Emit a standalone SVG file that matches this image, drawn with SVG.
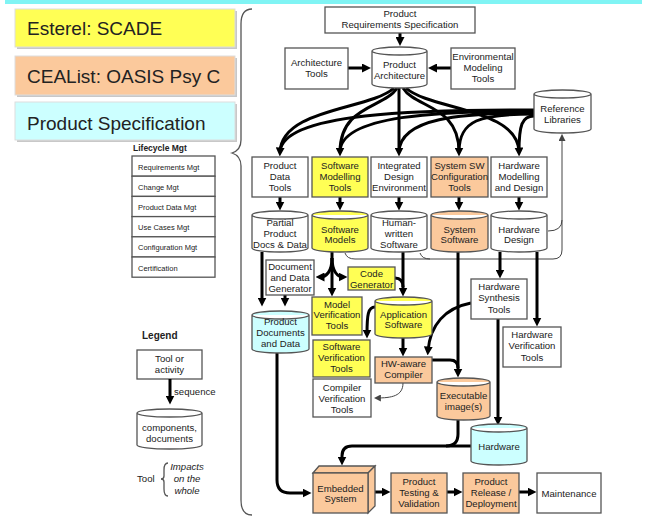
<svg xmlns="http://www.w3.org/2000/svg" width="647" height="519" viewBox="0 0 647 519">
<style>
.bx{fill:#fff;stroke:#555;stroke-width:1.3}
.y{fill:#ffff55}
.p{fill:#fbc99c}
.c{fill:#ccffff}
.t{font-family:"Liberation Sans",Arial,sans-serif;font-size:9.6px;fill:#222;text-anchor:middle}
.big{font-family:"Liberation Sans",Arial,sans-serif;font-size:19px;fill:#222}
.lc{font-family:"Liberation Sans",Arial,sans-serif;font-size:7.5px;fill:#222}
.b{font-family:"Liberation Sans",Arial,sans-serif;font-weight:bold;fill:#222}
.k{fill:none;stroke:#000;stroke-width:3}
.n{fill:none;stroke:#444;stroke-width:1}
.br{fill:none;stroke:#555;stroke-width:1.3}
.sh{fill:#c8c8c8}
.lb{stroke:#ddd;stroke-width:1}
</style>
<defs>
<marker id="a" viewBox="0 0 10 10" markerWidth="9" markerHeight="9" refX="5" refY="5" orient="auto" markerUnits="userSpaceOnUse"><path d="M0,0 L10,5 L0,10 z" fill="#000"/></marker>
<marker id="s" viewBox="0 0 10 10" markerWidth="7" markerHeight="7" refX="7" refY="5" orient="auto" markerUnits="userSpaceOnUse"><path d="M0,0 L10,5 L0,10 z" fill="#444"/></marker>
</defs>
<rect x="5" y="0" width="637" height="4" fill="#80f4f4"/>

<g id="legend-esterel">
<rect class="sh" x="17" y="11" width="220" height="38"/>
<rect class="y lb" x="15" y="9" width="220" height="38"/>
<text class="big" x="27" y="35">Esterel: SCADE</text>
</g>
<g id="legend-cealist">
<rect class="sh" x="17" y="58" width="220" height="39"/>
<rect class="p lb" x="15" y="56" width="220" height="39"/>
<text class="big" x="27" y="83">CEAList: OASIS Psy C</text>
</g>
<g id="legend-spec">
<rect class="sh" x="17" y="104" width="220" height="38"/>
<rect class="c lb" x="15" y="102" width="220" height="38"/>
<text class="big" x="27" y="130">Product Specification</text>
</g>
<path class="br" d="M252,9 Q241,9 241,24 L241,140 Q241,150 232,153 Q241,156 241,166 L241,500 Q241,515 252,515"/>

<g id="lifecycle">
<text class="b" x="133" y="151" font-size="8.5px">Lifecycle Mgt</text>
<rect class="bx" x="132" y="156" width="83" height="20.2"/>
<rect class="bx" x="132" y="176.2" width="83" height="20.2"/>
<rect class="bx" x="132" y="196.4" width="83" height="20.2"/>
<rect class="bx" x="132" y="216.6" width="83" height="20.2"/>
<rect class="bx" x="132" y="236.8" width="83" height="20.2"/>
<rect class="bx" x="132" y="257" width="83" height="20.2"/>
<text class="lc" x="138" y="169.5">Requirements Mgt</text>
<text class="lc" x="138" y="189.7">Change Mgt</text>
<text class="lc" x="138" y="209.9">Product Data Mgt</text>
<text class="lc" x="138" y="230.1">Use Cases Mgt</text>
<text class="lc" x="138" y="250.3">Configuration Mgt</text>
<text class="lc" x="138" y="270.5">Certification</text>
</g>

<g id="legend">
<text class="b" x="142" y="339" font-size="10px">Legend</text>
<rect class="bx" x="137" y="350" width="65" height="29"/>
<text class="t" x="169.5" y="362">Tool or</text>
<text class="t" x="169.5" y="373">activity</text>
<path class="k" d="M170,379 L170,400" marker-end="url(#a)"/>
<text class="t" x="174" y="395" font-size="8.5px" style="text-anchor:start">sequence</text>
<path class="bx" d="M137,413 A32.5,4 0 0 1 202,413 V445 A32.5,4 0 0 1 137,445 Z M137,413 A32.5,4 0 0 0 202,413"/>
<text class="t" x="169.5" y="431">components,</text>
<text class="t" x="169.5" y="442">documents</text>
<text class="t" x="137" y="482" style="text-anchor:start">Tool</text>
<path class="br" d="M168,463 Q164,463 164,470 L164,476 Q164,479 161,479 Q164,479 164,482 L164,489 Q164,496 168,496"/>
<text class="t" x="187" y="470" font-size="8.5px" font-style="italic">Impacts</text>
<text class="t" x="187" y="482" font-size="8.5px" font-style="italic">on the</text>
<text class="t" x="187" y="494" font-size="8.5px" font-style="italic">whole</text>
</g>

<g id="connectors">
<path class="k" d="M400,33 L400,41.5" marker-end="url(#a)"/>
<path class="k" d="M348,68 L366.5,68" marker-end="url(#a)"/>
<path class="k" d="M451,68 L432.5,68" marker-end="url(#a)"/>
<path class="k" d="M394,88 C370,110 282,108 280,152" marker-end="url(#a)"/>
<path class="k" d="M397,88 C385,108 340,105 340,152" marker-end="url(#a)"/>
<path class="k" d="M399,88 L399,152" marker-end="url(#a)"/>
<path class="k" d="M403,88 C415,108 459,105 459,152" marker-end="url(#a)"/>
<path class="k" d="M406,88 C430,110 518,108 519,152" marker-end="url(#a)"/>
<path class="k" d="M534,110 C420,110 282,112 280,152"/>
<path class="k" d="M534,111 C440,111 340,115 340,152"/>
<path class="k" d="M534,113 C460,113 400,118 399,152"/>
<path class="k" d="M534,114 C480,114 459,120 459,152"/>
<path class="k" d="M534,116 C522,116 519,125 519,152"/>
<path class="k" d="M280,197 L280,206" marker-end="url(#a)"/>
<path class="k" d="M340,197 L340,206" marker-end="url(#a)"/>
<path class="k" d="M399,197 L399,206" marker-end="url(#a)"/>
<path class="k" d="M459,197 L459,206" marker-end="url(#a)"/>
<path class="k" d="M519,197 L519,206" marker-end="url(#a)"/>
<path class="n" d="M345,253 Q347,259 355,259 L553,259 Q562,259 562,250 L562,136" marker-end="url(#s)"/>
<path class="n" d="M420,253 Q422,259 430,259"/>
<path class="n" d="M548,231 Q562,231 562,220"/>
<path class="k" d="M332,252 L332,292" marker-end="url(#a)"/>
<path class="k" d="M332,258 C332,272 326,277 320,277" marker-end="url(#a)"/>
<path class="k" d="M332,258 C332,272 338,277 343,277" marker-end="url(#a)"/>
<path class="k" d="M262,252 L262,302" marker-end="url(#a)"/>
<path class="k" d="M285,295 L285,302" marker-end="url(#a)"/>
<path class="k" d="M277,353 L277,480 Q277,493 290,493 L307,493" marker-end="url(#a)"/>
<path class="k" d="M403,252 L403,292" marker-end="url(#a)"/>
<path class="k" d="M395,278 Q403,278 403,287"/>
<path class="k" d="M375,307 C368,307 367,315 367,334" marker-end="url(#a)"/>
<path class="k" d="M403,338 L403,352" marker-end="url(#a)"/>
<path class="n" d="M403,383 C403,396 392,398 376,398" marker-end="url(#s)"/>
<path class="k" d="M458,252 L458,373" marker-end="url(#a)"/>
<path class="k" d="M432,360 L450,360 Q458,360 458,368"/>
<path class="k" d="M471,303 C445,308 430,325 428,351" marker-end="url(#a)"/>
<path class="k" d="M500,252 L500,274" marker-end="url(#a)"/>
<path class="k" d="M537,252 L537,322" marker-end="url(#a)"/>
<path class="k" d="M498,319 L498,421" marker-end="url(#a)"/>
<path class="k" d="M458,420 L458,434 Q458,446 446,446 L352,446 Q342,446 342,456 L342,461" marker-end="url(#a)"/>
<path class="k" d="M471,446 L446,446"/>
<path class="k" d="M375,492 L386,492" marker-end="url(#a)"/>
<path class="k" d="M447,492 L458,492" marker-end="url(#a)"/>
<path class="k" d="M519,492 L532,492" marker-end="url(#a)"/>
</g>

<g id="prs">
<rect class="bx" x="325" y="7" width="150" height="26"/>
<text class="t" x="400" y="17">Product</text>
<text class="t" x="400" y="28">Requirements Specification</text>
</g>
<g id="product-architecture">
<path class="bx" d="M372,51 A27.5,4 0 0 1 427,51 V84 A27.5,4 0 0 1 372,84 Z M372,51 A27.5,4 0 0 0 427,51"/>
<text class="t" x="399.5" y="68">Product</text>
<text class="t" x="399.5" y="79">Architecture</text>
</g>
<g id="architecture-tools">
<rect class="bx" x="285" y="48" width="63" height="41"/>
<text class="t" x="316.5" y="66">Architecture</text>
<text class="t" x="316.5" y="77">Tools</text>
</g>
<g id="env-tools">
<rect class="bx" x="451" y="48" width="64" height="41"/>
<text class="t" x="483" y="60">Environmental</text>
<text class="t" x="483" y="71">Modeling</text>
<text class="t" x="483" y="82">Tools</text>
</g>
<g id="reference-libraries">
<path class="bx" d="M534,94 A28.5,4 0 0 1 591,94 V129 A28.5,4 0 0 1 534,129 Z M534,94 A28.5,4 0 0 0 591,94"/>
<text class="t" x="562.5" y="112">Reference</text>
<text class="t" x="562.5" y="123">Libraries</text>
</g>

<g id="product-data-tools">
<rect class="bx" x="252" y="157" width="56" height="40"/>
<text class="t" x="280" y="169">Product</text>
<text class="t" x="280" y="180">Data</text>
<text class="t" x="280" y="191">Tools</text>
</g>
<g id="sw-modelling-tools">
<rect class="bx y" x="312" y="157" width="56" height="40"/>
<text class="t" x="340" y="169">Software</text>
<text class="t" x="340" y="180">Modelling</text>
<text class="t" x="340" y="191">Tools</text>
</g>
<g id="ide">
<rect class="bx" x="371" y="157" width="56" height="40"/>
<text class="t" x="399" y="169">Integrated</text>
<text class="t" x="399" y="180">Design</text>
<text class="t" x="399" y="191">Environment</text>
</g>
<g id="sys-sw-config-tools">
<rect class="bx p" x="431" y="157" width="57" height="40"/>
<text class="t" x="459.5" y="169">System SW</text>
<text class="t" x="459.5" y="180">Configuration</text>
<text class="t" x="459.5" y="191">Tools</text>
</g>
<g id="hw-modelling">
<rect class="bx" x="491" y="157" width="56" height="40"/>
<text class="t" x="519" y="169">Hardware</text>
<text class="t" x="519" y="180">Modelling</text>
<text class="t" x="519" y="191">and Design</text>
</g>

<g id="partial-docs">
<path class="bx" d="M252,215 A28,4 0 0 1 308,215 V248 A28,4 0 0 1 252,248 Z M252,215 A28,4 0 0 0 308,215"/>
<text class="t" x="280" y="226">Partial</text>
<text class="t" x="280" y="237">Product</text>
<text class="t" x="280" y="248">Docs &amp; Data</text>
</g>
<g id="software-models">
<path class="bx y" d="M312,215 A28,4 0 0 1 368,215 V248 A28,4 0 0 1 312,248 Z M312,215 A28,4 0 0 0 368,215"/>
<text class="t" x="340" y="233">Software</text>
<text class="t" x="340" y="243">Models</text>
</g>
<g id="human-written">
<path class="bx" d="M371,215 A28,4 0 0 1 427,215 V248 A28,4 0 0 1 371,248 Z M371,215 A28,4 0 0 0 427,215"/>
<text class="t" x="399" y="226">Human-</text>
<text class="t" x="399" y="237">written</text>
<text class="t" x="399" y="248">Software</text>
</g>
<g id="system-software">
<path class="bx p" d="M431,215 A28.5,4 0 0 1 488,215 V248 A28.5,4 0 0 1 431,248 Z M431,215 A28.5,4 0 0 0 488,215"/>
<text class="t" x="459.5" y="233">System</text>
<text class="t" x="459.5" y="243">Software</text>
</g>
<g id="hardware-design">
<path class="bx" d="M491,215 A28,4 0 0 1 547,215 V248 A28,4 0 0 1 491,248 Z M491,215 A28,4 0 0 0 547,215"/>
<text class="t" x="519" y="233">Hardware</text>
<text class="t" x="519" y="243">Design</text>
</g>

<g id="doc-generator">
<rect class="bx" x="266" y="260" width="48" height="35"/>
<text class="t" x="290" y="270">Document</text>
<text class="t" x="290" y="281">and Data</text>
<text class="t" x="290" y="292">Generator</text>
</g>
<g id="code-generator">
<rect class="bx y" x="348" y="267" width="47" height="23"/>
<text class="t" x="371.5" y="277">Code</text>
<text class="t" x="371.5" y="288">Generator</text>
</g>
<g id="product-docs">
<path class="bx c" d="M252,315 A28.5,4 0 0 1 309,315 V349 A28.5,4 0 0 1 252,349 Z M252,315 A28.5,4 0 0 0 309,315"/>
<text class="t" x="280.5" y="325">Product</text>
<text class="t" x="280.5" y="336">Documents</text>
<text class="t" x="280.5" y="347">and Data</text>
</g>
<g id="model-verification">
<rect class="bx y" x="312" y="297" width="50" height="38"/>
<text class="t" x="337" y="308">Model</text>
<text class="t" x="337" y="318">Verification</text>
<text class="t" x="337" y="329">Tools</text>
</g>
<g id="sw-verification">
<rect class="bx y" x="313" y="340" width="57" height="37"/>
<text class="t" x="341.5" y="350">Software</text>
<text class="t" x="341.5" y="361">Verification</text>
<text class="t" x="341.5" y="372">Tools</text>
</g>
<g id="compiler-verification">
<rect class="bx" x="313" y="379" width="58" height="38"/>
<text class="t" x="342" y="391">Compiler</text>
<text class="t" x="342" y="402">Verification</text>
<text class="t" x="342" y="413">Tools</text>
</g>
<g id="application-software">
<path class="bx y" d="M375,301 A28.5,4 0 0 1 432,301 V334 A28.5,4 0 0 1 375,334 Z M375,301 A28.5,4 0 0 0 432,301"/>
<text class="t" x="403.5" y="318">Application</text>
<text class="t" x="403.5" y="328">Software</text>
</g>
<g id="hw-aware-compiler">
<rect class="bx p" x="375" y="357" width="57" height="26"/>
<text class="t" x="403.5" y="367">HW-aware</text>
<text class="t" x="403.5" y="378">Compiler</text>
</g>
<g id="executable">
<path class="bx p" d="M437,382 A26.5,4 0 0 1 490,382 V416 A26.5,4 0 0 1 437,416 Z M437,382 A26.5,4 0 0 0 490,382"/>
<text class="t" x="463.5" y="399">Executable</text>
<text class="t" x="463.5" y="410">image(s)</text>
</g>
<g id="hw-synthesis">
<rect class="bx" x="471" y="279" width="56" height="40"/>
<text class="t" x="499" y="290">Hardware</text>
<text class="t" x="499" y="301">Synthesis</text>
<text class="t" x="499" y="313">Tools</text>
</g>
<g id="hw-verification">
<rect class="bx" x="503" y="327" width="58" height="40"/>
<text class="t" x="532" y="338">Hardware</text>
<text class="t" x="532" y="349">Verification</text>
<text class="t" x="532" y="361">Tools</text>
</g>
<g id="hardware">
<path class="bx c" d="M471,428 A28,4 0 0 1 527,428 V461 A28,4 0 0 1 471,461 Z M471,428 A28,4 0 0 0 527,428"/>
<text class="t" x="499" y="450">Hardware</text>
</g>

<g id="embedded-system">
<polygon class="bx p" points="313,473 319,466 375,466 368,473"/>
<polygon class="bx p" points="368,473 375,466 375,506 368,513"/>
<rect class="bx p" x="313" y="473" width="55" height="40"/>
<text class="t" x="340.5" y="492">Embedded</text>
<text class="t" x="340.5" y="502">System</text>
</g>
<g id="testing">
<rect class="bx p" x="391" y="473" width="56" height="40"/>
<text class="t" x="419" y="485">Product</text>
<text class="t" x="419" y="496">Testing &amp;</text>
<text class="t" x="419" y="507">Validation</text>
</g>
<g id="release">
<rect class="bx p" x="463" y="473" width="56" height="40"/>
<text class="t" x="491" y="485">Product</text>
<text class="t" x="491" y="496">Release /</text>
<text class="t" x="491" y="507">Deployment</text>
</g>
<g id="maintenance">
<rect class="bx" x="537" y="473" width="64" height="40"/>
<text class="t" x="569" y="497">Maintenance</text>
</g>
</svg>
